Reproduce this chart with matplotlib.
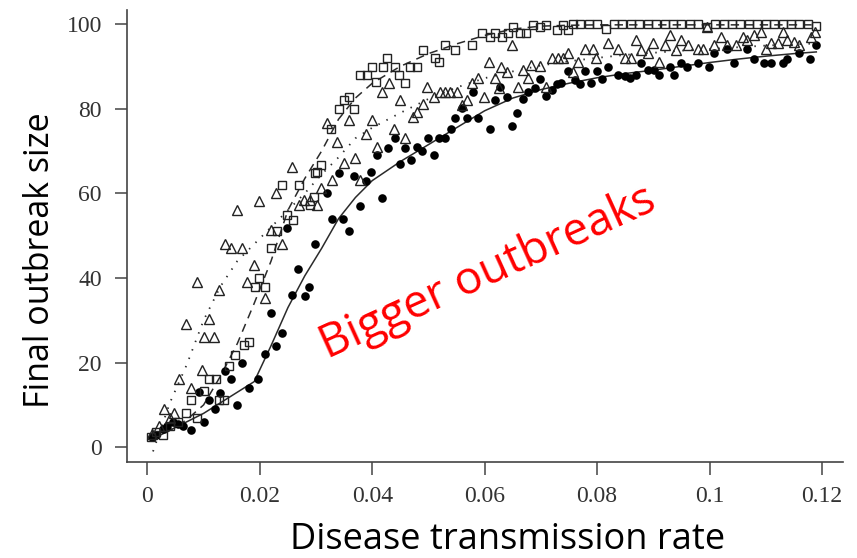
import matplotlib
matplotlib.use("Agg")
import matplotlib.pyplot as plt

# filled circles (solid fit)
circ_x = [0.0009, 0.0015, 0.0027, 0.0035, 0.0045, 0.0055, 0.0063, 0.0077, 0.0092, 0.0101,
          0.0109, 0.0121, 0.0129, 0.0138, 0.0148, 0.0160, 0.0169, 0.0180, 0.0196, 0.0209,
          0.0219, 0.0228, 0.0239, 0.0249, 0.0258, 0.0268, 0.0280, 0.0288, 0.0299, 0.0320,
          0.0329, 0.0340, 0.0348, 0.0359, 0.0367, 0.0378, 0.0388, 0.0398, 0.0408, 0.0418,
          0.0428, 0.0440, 0.0450, 0.0459, 0.0469, 0.0479, 0.0489, 0.0499, 0.0509, 0.0518,
          0.0530, 0.0540, 0.0547, 0.0559, 0.0569, 0.0579, 0.0589, 0.0609, 0.0618, 0.0627,
          0.0639, 0.0648, 0.0658, 0.0668, 0.0677, 0.0689, 0.0698, 0.0710, 0.0719, 0.0728,
          0.0736, 0.0748, 0.0760, 0.0769, 0.0778, 0.0790, 0.0800, 0.0809, 0.0819, 0.0837,
          0.0849, 0.0859, 0.0869, 0.0878, 0.0890, 0.0902, 0.0911, 0.0929, 0.0937, 0.0949,
          0.0960, 0.0979, 0.0999, 0.1008, 0.1032, 0.1044, 0.1067, 0.1079, 0.1097, 0.1109,
          0.1130, 0.1138, 0.1159, 0.1179, 0.1189]
circ_y = [2.4, 3.0, 4.4, 5.0, 6.0, 5.5, 5.0, 4.0, 13.1, 6.0,
          11.1, 9.1, 12.8, 18.0, 16.0, 9.9, 20.0, 13.9, 16.0, 22.0,
          31.8, 24.0, 26.9, 51.8, 35.9, 42.0, 35.8, 37.9, 47.9, 60.0,
          53.9, 64.9, 53.9, 51.1, 64.1, 57.0, 62.9, 65.1, 69.0, 59.0,
          70.8, 73.0, 66.9, 70.8, 67.8, 71.0, 70.0, 73.0, 69.0, 73.1,
          73.0, 75.1, 77.9, 80.1, 77.9, 83.9, 77.9, 75.1, 82.0, 85.0,
          82.8, 76.0, 78.9, 82.2, 84.0, 84.8, 86.9, 83.0, 84.4, 85.8,
          86.0, 89.0, 86.8, 85.8, 89.0, 86.1, 89.0, 86.9, 89.9, 87.9,
          87.7, 87.2, 87.9, 90.9, 89.1, 89.1, 87.9, 89.9, 87.9, 90.9,
          89.9, 90.9, 89.9, 93.1, 94.0, 90.9, 94.0, 91.7, 90.9, 90.9,
          90.9, 91.7, 93.1, 91.7, 95.0]

# open squares (dashed fit)
sq_x = [0.0007, 0.0015, 0.0027, 0.0040, 0.0055, 0.0069, 0.0078, 0.0089, 0.0101, 0.0110,
        0.0122, 0.0128, 0.0137, 0.0145, 0.0156, 0.0172, 0.0180, 0.0191, 0.0199, 0.0210,
        0.0219, 0.0231, 0.0240, 0.0249, 0.0259, 0.0270, 0.0289, 0.0296, 0.0298, 0.0302,
        0.0308, 0.0326, 0.0340, 0.0349, 0.0358, 0.0367, 0.0379, 0.0391, 0.0400, 0.0407,
        0.0420, 0.0426, 0.0441, 0.0447, 0.0459, 0.0468, 0.0479, 0.0491, 0.0512, 0.0518,
        0.0530, 0.0547, 0.0577, 0.0595, 0.0609, 0.0618, 0.0630, 0.0642, 0.0651, 0.0663,
        0.0674, 0.0686, 0.0698, 0.0710, 0.0728, 0.0739, 0.0748, 0.0757, 0.0770, 0.0785,
        0.0800, 0.0815, 0.0830, 0.0845, 0.0860, 0.0875, 0.0890, 0.0905, 0.0920, 0.0935,
        0.0950, 0.0965, 0.0980, 0.0995, 0.1010, 0.1025, 0.1040, 0.1055, 0.1070, 0.1085,
        0.1100, 0.1115, 0.1130, 0.1145, 0.1160, 0.1175, 0.1190]
sq_y = [2.4, 3.5, 2.8, 5.0, 6.0, 8.0, 11.1, 7.0, 13.3, 16.1,
        16.1, 11.1, 11.1, 19.2, 21.7, 24.1, 24.9, 37.9, 39.9, 37.9,
        47.0, 51.1, 61.9, 54.8, 53.8, 61.9, 57.2, 59.2, 64.9, 65.1,
        66.7, 75.1, 79.8, 82.0, 82.8, 79.8, 87.9, 87.9, 89.9, 86.4,
        89.9, 91.9, 89.9, 87.9, 86.0, 89.9, 89.9, 93.9, 91.9, 91.1,
        95.0, 93.9, 95.0, 97.8, 97.0, 97.9, 97.0, 97.9, 99.2, 97.8,
        97.9, 99.8, 99.2, 99.8, 98.7, 99.8, 98.7, 100.0, 100.0, 100.0,
        100.0, 98.9, 100.0, 100.0, 100.0, 100.0, 100.0, 100.0, 100.0, 100.0,
        100.0, 100.0, 100.0, 99.3, 100.0, 100.0, 100.0, 100.0, 100.0, 100.0,
        100.0, 100.0, 100.0, 100.0, 100.0, 100.0, 99.6]

# open triangles (dotted fit)
tri_x = [0.0009, 0.0020, 0.0030, 0.0040, 0.0048, 0.0057, 0.0069, 0.0077, 0.0089, 0.0097,
         0.0100, 0.0109, 0.0119, 0.0128, 0.0138, 0.0148, 0.0160, 0.0169, 0.0178, 0.0190,
         0.0199, 0.0209, 0.0219, 0.0228, 0.0240, 0.0258, 0.0270, 0.0278, 0.0290, 0.0302,
         0.0308, 0.0320, 0.0329, 0.0337, 0.0349, 0.0358, 0.0370, 0.0379, 0.0388, 0.0400,
         0.0408, 0.0417, 0.0429, 0.0438, 0.0450, 0.0459, 0.0473, 0.0479, 0.0491, 0.0497,
         0.0509, 0.0521, 0.0530, 0.0538, 0.0550, 0.0559, 0.0568, 0.0577, 0.0589, 0.0598,
         0.0608, 0.0618, 0.0625, 0.0629, 0.0639, 0.0648, 0.0660, 0.0668, 0.0677, 0.0683,
         0.0698, 0.0710, 0.0719, 0.0730, 0.0739, 0.0748, 0.0757, 0.0766, 0.0778, 0.0793,
         0.0798, 0.0819, 0.0837, 0.0849, 0.0861, 0.0869, 0.0878, 0.0890, 0.0899, 0.0911,
         0.0920, 0.0929, 0.0940, 0.0949, 0.0961, 0.0979, 0.0988, 0.0996, 0.1008, 0.1020,
         0.1032, 0.1047, 0.1059, 0.1067, 0.1079, 0.1091, 0.1100, 0.1109, 0.1121, 0.1130,
         0.1138, 0.1150, 0.1159, 0.1180, 0.1188]
tri_y = [3.2, 5.0, 9.1, 7.0, 8.0, 16.1, 29.1, 14.1, 39.1, 18.2,
         26.1, 30.2, 26.1, 37.1, 48.1, 47.0, 56.0, 47.0, 39.1, 43.0,
         58.2, 35.2, 51.3, 60.0, 47.9, 66.1, 57.2, 58.4, 58.4, 57.2,
         61.2, 76.5, 63.1, 72.2, 67.1, 77.3, 68.3, 63.1, 74.1, 77.3,
         71.0, 84.0, 86.0, 75.1, 82.0, 73.0, 78.1, 79.3, 81.2, 85.2,
         82.8, 84.0, 84.0, 84.0, 84.0, 80.9, 82.0, 86.0, 87.2, 82.8,
         91.1, 87.2, 84.8, 89.9, 88.7, 95.0, 85.2, 89.1, 87.2, 90.3,
         90.1, 85.2, 91.9, 91.9, 91.9, 93.2, 88.7, 91.1, 94.2, 94.2,
         91.9, 95.4, 94.2, 91.9, 91.9, 96.2, 93.9, 93.1, 95.4, 91.1,
         95.0, 97.4, 93.9, 96.2, 95.0, 94.0, 94.0, 99.4, 95.0, 97.0,
         95.0, 95.0, 97.0, 96.2, 97.4, 98.2, 94.0, 95.4, 95.4, 98.2,
         96.2, 95.8, 95.0, 97.0, 98.2]

# fitted curves
fit_x = [0.001, 0.004, 0.007, 0.010, 0.013, 0.016, 0.019, 0.022, 0.025, 0.028,
         0.031, 0.034, 0.037, 0.040, 0.045, 0.050, 0.055, 0.060, 0.065, 0.070,
         0.075, 0.080, 0.085, 0.090, 0.095, 0.100, 0.105, 0.110, 0.115, 0.119]
fit_solid = [2, 4, 6, 8, 10.5, 13, 15.5, 24, 33, 40.5,
             47, 54, 59, 63, 67.5, 71.5, 75.5, 79.5, 82.5, 84.5,
             86, 87.3, 88.3, 89.1, 90, 90.9, 91.7, 92.4, 93, 93.4]
fit_dashed = [1.5, 4, 6.5, 10, 16.8, 24.5, 34, 44, 56, 63.5,
              70, 77.5, 82.5, 86, 90, 93, 95.3, 97.3, 98.8, 99.5,
              99.7, 99.8, 99.8, 99.8, 99.8, 99.8, 99.8, 99.8, 99.8, 99.8]
fit_dotted = [-1, 10.5, 19.5, 30, 38, 44, 48, 52, 56, 60,
              64.5, 68.5, 73, 75.5, 79, 82.3, 85, 87.2, 88.8, 90.2,
              91.2, 92, 92.7, 93.2, 93.7, 94.1, 94.5, 94.9, 95.2, 95.4]

x_ticks = [0, 0.02, 0.04, 0.06, 0.08, 0.1, 0.12]
x_tick_labels = ["0", "0.02", "0.04", "0.06", "0.08", "0.1", "0.12"]
y_ticks = [0, 20, 40, 60, 80, 100]

fig = plt.figure(figsize=(8.57, 5.58), dpi=100)
ax = fig.add_axes([0.148, 0.172, 0.836, 0.810])

line_col = "#2b2b2b"
ax.plot(fit_x, fit_solid, "-", color=line_col, linewidth=1.1)
ax.plot(fit_x, fit_dashed, color=line_col, linewidth=1.1, dashes=(5.5, 4))
ax.plot(fit_x, fit_dotted, color=line_col, linewidth=1.3, dashes=(0.8, 4.2))

ax.plot(circ_x, circ_y, "o", color="black", markersize=6.2, markeredgewidth=0)
ax.plot(sq_x, sq_y, "s", markerfacecolor="none", markeredgecolor="#222222",
        markersize=6.2, markeredgewidth=1.0)
ax.plot(tri_x, tri_y, "^", markerfacecolor="none", markeredgecolor="#222222",
        markersize=7.2, markeredgewidth=1.0)

ax.set_xlim(-0.00366, 0.1238)
ax.set_ylim(-3.5, 103.3)
ax.set_xticks(x_ticks)
ax.set_xticklabels(x_tick_labels)
ax.set_yticks(y_ticks)

for s in ["top", "right"]:
    ax.spines[s].set_visible(False)
for s in ["left", "bottom"]:
    ax.spines[s].set_color("#444444")
    ax.spines[s].set_linewidth(1.2)

ax.tick_params(axis="both", direction="out", length=9, width=1.1, color="#444444",
               labelsize=17, labelcolor="#333333")
ax.tick_params(axis="x", pad=8)
ax.tick_params(axis="y", pad=9)
for lab in ax.get_xticklabels() + ax.get_yticklabels():
    lab.set_fontfamily("Liberation Serif")

ax.set_xlabel("Disease transmission rate", fontsize=26, family="Open Sans")
ax.xaxis.label.set_va("center")
ax.xaxis.set_label_coords(0.531, -0.172)
ax.set_ylabel("Final outbreak size", fontsize=24.5, family="Open Sans")
ax.yaxis.label.set_va("center")
ax.yaxis.set_label_coords(-0.121, 0.447)

ax.text(0.0605, 41.2, "Bigger outbreaks", color="#ff0000", fontsize=33, family="Open Sans",
        rotation=24.4, ha="center", va="center")

fig.savefig("out.png", dpi=100)
